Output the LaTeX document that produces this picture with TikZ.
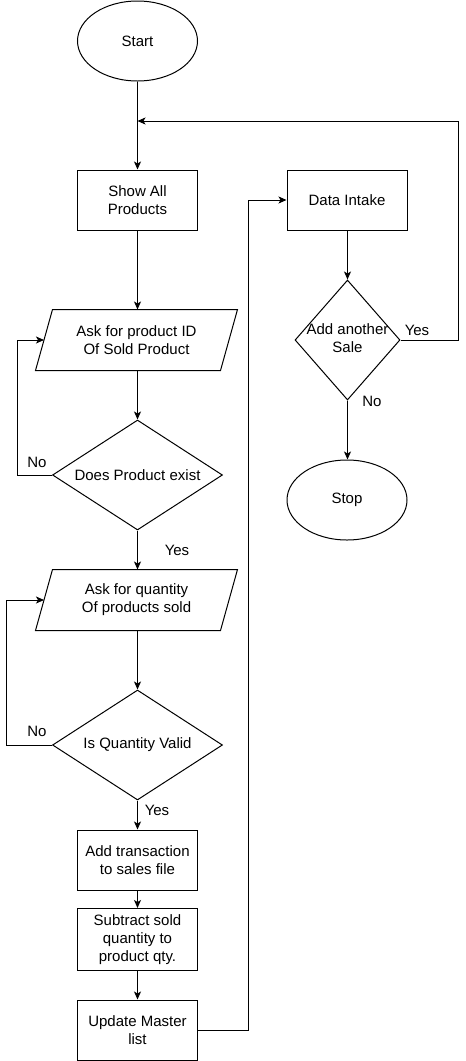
\documentclass[tikz,border=0pt]{standalone}
\usepackage{fontspec}
\setmainfont{Liberation Sans}
\usetikzlibrary{shapes.geometric,arrows.meta,calc}
\begin{document}
\begin{tikzpicture}[x=1pt,y=-1pt,line width=1pt,
  every node/.style={font=\fontsize{15}{18}\selectfont,align=center,inner sep=0pt},
  procbox/.style={draw,rectangle,minimum width=120pt,minimum height=60pt},
  iobody/.style={rectangle,minimum width=184pt,minimum height=60pt},
  decbox/.style={draw,diamond,minimum width=170pt,minimum height=110pt},
  termbox/.style={draw,ellipse,minimum width=120pt,minimum height=80pt},
  arr/.style={-{Stealth[length=8pt,width=7pt,inset=2pt]}},
  lbl/.style={font=\fontsize{15}{18}\selectfont}]
\useasboundingbox (0,0) rectangle (466,1061);
% nodes
\node[termbox] (start) at (137.5,41) {Start};
\node[procbox] (show) at (137.5,200) {Show All\\Products};
\node[iobody] (ask1) at (136.5,340) {Ask for product ID\\Of Sold Product};
\draw ([xshift=8.5pt]ask1.north west) -- ([xshift=8.5pt]ask1.north east)
  -- ([xshift=-8.5pt]ask1.south east) -- ([xshift=-8.5pt]ask1.south west) -- cycle;
\node[decbox] (dec1) at (137.5,475) {\makebox[0pt]{Does Product exist}};
\node[iobody] (ask2) at (136.5,600) {Ask for quantity\\Of products sold};
\draw ([xshift=8.5pt]ask2.north west) -- ([xshift=8.5pt]ask2.north east)
  -- ([xshift=-8.5pt]ask2.south east) -- ([xshift=-8.5pt]ask2.south west) -- cycle;
\node[decbox] (dec2) at (137.5,745) {\makebox[0pt]{Is Quantity Valid}};
\node[procbox] (addt) at (137.5,860) {Add transaction\\to sales file};
\node[procbox,minimum height=62pt] (sub) at (137.5,939.5) {Subtract sold\\quantity to\\product qty.};
\node[procbox] (upd) at (137.5,1030) {Update Master\\list};
\node[procbox] (data) at (347,200) {Data Intake};
\node[decbox,minimum width=105pt,minimum height=120pt] (dec3) at (347.5,340)
  {\makebox[0pt]{\begin{tabular}{@{}c@{}}Add another\\Sale\end{tabular}}};
\node[termbox] (stop) at (347,500) {Stop};
\coordinate (j1) at (137.5,121);
% connectors
\draw[arr] (start) -- (show);
\draw[arr] (show) -- (show |- ask1.north);
\draw[arr] (ask1.south -| dec1) -- (dec1.north);
\draw[arr] (dec1.west) -- ++(-35,0) |- (ask1.west);
\draw[arr] (dec1.south) -- (dec1.south |- ask2.north);
\draw[arr] (ask2.south -| dec2) -- (dec2.north);
\draw[arr] (dec2.west) -- ++(-45.5,0) |- (ask2.west);
\draw[arr] (dec2.south) -- (addt.north);
\draw[arr] (addt) -- (sub);
\draw[arr] (sub) -- (upd);
\draw[arr] (upd.east) -- ++(50,0) |- (data.west);
\draw[arr] (data.south -| dec3) -- (dec3.north);
\draw[arr] (dec3.east) -- ++(57.5,0) |- (j1);
\draw[arr] (dec3.south) -- (dec3.south |- stop.north);
% labels
\node[lbl] (n1) at (37,462) {No};
\node[lbl] (y1) at (177,550) {Yes};
\node[lbl] (n2) at (37,731) {No};
\node[lbl] (y2) at (157,810) {Yes};
\node[lbl] (y3) at (417,330) {Yes};
\node[lbl] (n3) at (372,401) {No};
\end{tikzpicture}
\end{document}
